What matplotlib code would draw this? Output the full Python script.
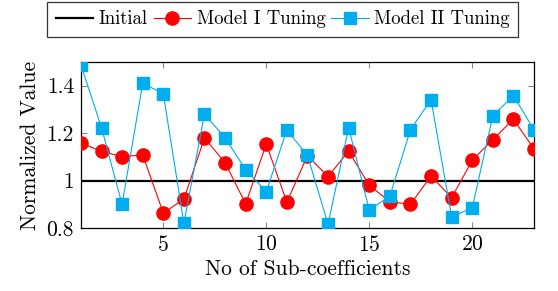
import numpy as np
import matplotlib.pyplot as plt

# data
n_coef = np.arange(1, 24)
initial = [1.0] * len(n_coef)
model1 = [1.158, 1.124, 1.100, 1.109, 0.863, 0.922, 1.180, 1.075, 0.902, 1.154,
          0.909, 1.105, 1.017, 1.124, 0.980, 0.911, 0.900, 1.019, 0.928, 1.085,
          1.173, 1.258, 1.134]
model2 = [1.488, 1.223, 0.900, 1.410, 1.367, 0.820, 1.280, 1.180, 1.046, 0.953,
          1.213, 1.106, 0.816, 1.223, 0.876, 0.934, 1.214, 1.341, 0.847, 0.885,
          1.273, 1.358, 1.214]
xticks = [5, 10, 15, 20]
yticks = [0.8, 1.0, 1.2, 1.4]
yticklabels = ["0.8", "1", "1.2", "1.4"]

plt.rcParams['font.family'] = 'serif'
plt.rcParams['font.serif'] = ['cmr10', 'DejaVu Serif']
plt.rcParams['mathtext.fontset'] = 'cm'
plt.rcParams['axes.formatter.use_mathtext'] = True

fig = plt.figure(figsize=(5.58, 2.91), dpi=100)
ax = fig.add_axes([0.145, 0.2165, 0.812, 0.5705])

ax.plot(n_coef, initial, color='black', lw=1.6, label='Initial', zorder=2)
ax.plot(n_coef, model1, color='#FF0000', lw=0.8, marker='o', ms=9.5,
        label='Model I Tuning', zorder=3)
ax.plot(n_coef, model2, color='#00AEEF', lw=0.8, marker='s', ms=9,
        label='Model II Tuning', zorder=4)

ax.set_xlim(1, 23)
ax.set_ylim(0.8, 1.5)
ax.set_xticks(xticks)
ax.set_yticks(yticks)
ax.set_yticklabels(yticklabels)
ax.tick_params(direction='in', length=4, width=0.8, color='#888888',
               top=True, right=True, labelsize=15.5, pad=5)
for s in ax.spines.values():
    s.set_linewidth(0.9)

ax.set_xlabel('No of Sub-coefficients', fontsize=15.5, labelpad=3)
ax.set_ylabel('Normalized Value', fontsize=15.5, labelpad=5)

leg = fig.legend(loc='center', bbox_to_anchor=(0.507, 0.933), ncol=3,
                 fontsize=13.5, frameon=True, fancybox=False, edgecolor='black',
                 handlelength=2.0, handletextpad=0.3, columnspacing=0.3,
                 borderpad=0.45)
leg.get_frame().set_linewidth(0.9)

plt.savefig('out.png', dpi=100)
plt.close()
